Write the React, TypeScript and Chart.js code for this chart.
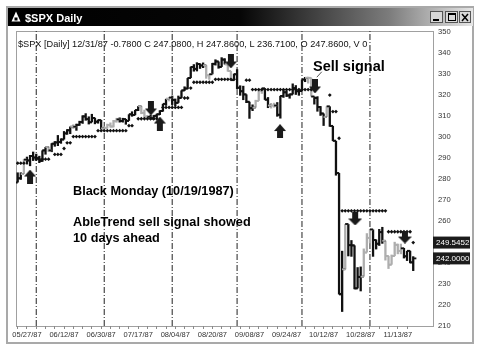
import { useEffect, useRef } from 'react';
import { Chart, registerables } from 'chart.js';

Chart.register(...registerables);

// ---------- data ----------
const DATES: string[] = [
  '05/21/87', '05/22/87', '05/26/87', '05/27/87', '05/28/87', '05/29/87',
  '06/01/87', '06/02/87', '06/03/87', '06/04/87', '06/05/87', '06/08/87', '06/09/87', '06/10/87', '06/11/87', '06/12/87',
  '06/15/87', '06/16/87', '06/17/87', '06/18/87', '06/19/87', '06/22/87', '06/23/87', '06/24/87', '06/25/87', '06/26/87',
  '06/29/87', '06/30/87',
  '07/01/87', '07/02/87', '07/06/87', '07/07/87', '07/08/87', '07/09/87', '07/10/87', '07/13/87', '07/14/87', '07/15/87',
  '07/16/87', '07/17/87', '07/20/87', '07/21/87', '07/22/87', '07/23/87', '07/24/87', '07/27/87', '07/28/87', '07/29/87',
  '07/30/87', '07/31/87',
  '08/03/87', '08/04/87', '08/05/87', '08/06/87', '08/07/87', '08/10/87', '08/11/87', '08/12/87', '08/13/87', '08/14/87',
  '08/17/87', '08/18/87', '08/19/87', '08/20/87', '08/21/87', '08/24/87', '08/25/87', '08/26/87', '08/27/87', '08/28/87',
  '08/31/87',
  '09/01/87', '09/02/87', '09/03/87', '09/04/87', '09/08/87', '09/09/87', '09/10/87', '09/11/87', '09/14/87', '09/15/87',
  '09/16/87', '09/17/87', '09/18/87', '09/21/87', '09/22/87', '09/23/87', '09/24/87', '09/25/87', '09/28/87', '09/29/87',
  '09/30/87',
  '10/01/87', '10/02/87', '10/05/87', '10/06/87', '10/07/87', '10/08/87', '10/09/87', '10/12/87', '10/13/87', '10/14/87',
  '10/15/87', '10/16/87', '10/19/87', '10/20/87', '10/21/87', '10/22/87', '10/23/87', '10/26/87', '10/27/87', '10/28/87',
  '10/29/87', '10/30/87',
  '11/02/87', '11/03/87', '11/04/87', '11/05/87', '11/06/87', '11/09/87', '11/10/87', '11/11/87', '11/12/87', '11/13/87',
  '11/16/87', '11/17/87', '11/18/87', '11/19/87', '11/20/87',
];

const OPEN: number[] = [
  278.2, 280.2, 282.2, 289.1, 288.7, 290.8, 290.1, 289.8, 288.5, 293.5,
  295.1, 293.5, 296.7, 297.3, 297.5, 298.7, 301.6, 303.1, 304.8, 304.8,
  305.7, 307.0, 309.7, 308.4, 306.9, 309.0, 307.2, 307.9, 304.0, 304.2,
  305.6, 304.9, 307.4, 308.3, 307.5, 308.4, 307.6, 310.7, 310.4, 312.7,
  314.6, 311.4, 309.6, 309.5, 308.8, 310.0, 310.7, 312.3, 315.7, 318.1,
  318.7, 317.6, 316.2, 318.5, 322.1, 323.0, 328.0, 333.3, 332.4, 334.7,
  334.0, 334.1, 329.3, 329.8, 334.8, 335.9, 333.3, 336.8, 334.6, 331.4,
  327.0, 329.8, 323.4, 321.7, 320.2, 316.7, 313.6, 313.9, 317.1, 322.0,
  323.1, 317.7, 314.9, 314.9, 314.9, 310.5, 319.5, 321.2, 319.7, 320.2,
  323.2, 321.7, 321.8, 327.3, 328.1, 328.1, 319.2, 318.5, 314.2, 311.1,
  309.4, 314.5, 305.2, 298.1, 282.7, 225.1, 236.8, 258.4, 248.3, 248.2,
  227.7, 233.2, 233.3, 244.8, 251.8, 255.8, 250.8, 249.0, 254.5, 250.4,
  243.2, 239.0, 243.1, 248.5, 245.6, 246.8, 243.0, 245.6, 240.1,
];

const HIGH: number[] = [
  283.0, 283.0, 289.3, 290.5, 291.3, 292.9, 291.9, 290.9, 293.5, 295.1,
  295.3, 296.9, 297.9, 300.8, 299.2, 302.7, 303.6, 304.9, 305.9, 306.2,
  307.6, 310.2, 311.2, 309.7, 310.9, 309.1, 308.2, 308.0, 305.0, 306.2,
  306.8, 308.0, 309.0, 309.2, 309.0, 308.5, 310.7, 312.1, 312.8, 314.6,
  314.6, 312.9, 310.4, 310.5, 310.3, 311.0, 312.6, 315.7, 318.1, 319.0,
  319.6, 318.2, 319.6, 322.1, 324.0, 328.0, 333.4, 334.6, 335.5, 335.0,
  335.4, 334.1, 330.0, 335.2, 336.9, 335.9, 337.9, 337.4, 334.6, 331.4,
  330.1, 332.2, 324.5, 324.3, 320.2, 316.7, 315.4, 317.6, 322.5, 323.1,
  323.1, 318.9, 316.1, 316.2, 316.5, 319.5, 322.5, 322.1, 320.6, 325.4,
  324.6, 322.9, 327.3, 328.5, 328.6, 328.1, 319.3, 319.3, 314.6, 311.1,
  314.5, 314.5, 305.2, 298.1, 282.7, 245.6, 258.4, 258.4, 250.7, 248.2,
  237.8, 238.1, 246.7, 254.0, 255.8, 255.8, 251.0, 256.0, 257.0, 250.4,
  243.2, 243.8, 249.9, 249.0, 249.0, 247.0, 245.6, 245.6, 243.0,
];

const LOW: number[] = [
  278.2, 279.5, 282.2, 286.8, 286.0, 288.5, 288.6, 287.5, 288.1, 291.5,
  292.8, 292.7, 295.3, 295.6, 296.7, 298.7, 301.0, 301.3, 303.8, 302.9,
  305.3, 306.2, 307.7, 305.9, 306.9, 306.0, 306.3, 303.6, 303.6, 304.0,
  304.4, 304.5, 306.8, 306.8, 306.8, 305.8, 307.6, 309.6, 310.3, 312.3,
  310.8, 309.0, 308.9, 308.2, 308.0, 309.0, 310.4, 312.0, 314.8, 316.9,
  315.2, 314.6, 316.2, 318.5, 321.9, 322.7, 328.0, 331.1, 331.2, 332.4,
  332.8, 327.7, 327.2, 329.8, 334.0, 332.5, 333.3, 334.5, 331.1, 326.9,
  327.0, 322.8, 319.6, 317.5, 316.1, 308.6, 312.3, 313.9, 317.1, 320.5,
  317.6, 313.7, 313.5, 313.9, 309.6, 308.7, 318.6, 319.0, 318.2, 320.2,
  320.0, 319.6, 321.8, 326.1, 325.4, 319.2, 315.4, 312.0, 310.0, 305.2,
  309.4, 304.8, 298.0, 281.5, 224.8, 216.5, 236.8, 243.0, 242.8, 227.3,
  227.7, 226.3, 233.3, 244.8, 249.2, 242.8, 246.3, 248.0, 249.0, 241.0,
  237.0, 239.0, 243.1, 244.0, 244.0, 242.0, 240.8, 239.7, 236.0,
];

const CLOSE: number[] = [
  280.2, 282.2, 289.1, 288.7, 290.8, 290.1, 289.8, 288.5, 293.5, 295.1,
  293.5, 296.7, 297.3, 297.5, 298.7, 301.6, 303.1, 304.8, 304.8, 305.7,
  307.0, 309.7, 308.4, 306.9, 309.0, 307.2, 307.9, 304.0, 304.2, 305.6,
  304.9, 307.4, 308.3, 307.5, 308.4, 307.6, 310.7, 310.4, 312.7, 314.6,
  311.4, 309.6, 309.5, 308.8, 310.0, 310.7, 312.3, 315.7, 318.1, 318.7,
  317.6, 316.2, 318.5, 322.1, 323.0, 328.0, 333.3, 332.4, 334.7, 334.0,
  334.1, 329.3, 329.8, 334.8, 335.9, 333.3, 336.8, 334.6, 331.4, 327.0,
  329.8, 323.4, 321.7, 320.2, 316.7, 313.6, 313.9, 317.1, 322.0, 323.1,
  317.7, 314.9, 314.9, 314.9, 310.5, 319.5, 321.2, 319.7, 320.2, 323.2,
  321.7, 321.8, 327.3, 328.1, 328.1, 319.2, 318.5, 314.2, 311.1, 309.4,
  314.5, 305.2, 298.1, 282.7, 224.8, 236.8, 258.4, 248.3, 248.2, 227.7,
  233.2, 233.3, 244.8, 251.8, 255.8, 250.8, 249.0, 254.5, 250.4, 243.2,
  239.0, 243.1, 248.5, 245.6, 246.8, 243.0, 245.6, 240.1, 242.0,
];

// k = dark bar, g = light grey bar
const SHADES: string[] = (
  'kkgkkkkkkk' + 'gkkkkkkkgk' + 'kkkkkkkkgg' + 'gggkkkkkkk' + 'gggkkkkkkg' +
  'kkkkkkkkkk' + 'kggkkkkkgg' + 'kkkkkkkggg' + 'kkggkkkkkk' + 'kkkkggkkkk' +
  'gkkkkkgkkk' + 'kkgggkkkkg' + 'gggggkkkk'
).split('');

// trailing stop levels: [first bar, last bar, level]
const STOP_SEGMENTS: [number, number, number][] = [
  [0, 2, 287.4], [6, 10, 289.3], [12, 14, 291.6], [15, 15, 294.4], [16, 17, 297.1],
  [18, 25, 300.1], [26, 35, 302.9], [36, 37, 305.3], [39, 45, 308.6], [47, 53, 314.0],
  [54, 55, 318.5], [56, 56, 323.2], [57, 63, 326.0], [64, 70, 327.4], [74, 75, 327.0],
  [76, 95, 322.5], [101, 101, 319.9], [102, 103, 312.0], [104, 104, 299.3],
  [105, 119, 264.7], [120, 127, 254.7], [128, 128, 249.5452],
];

const UP_ARROWS: [number, number][] = [[4, 281.05], [46, 306.3], [84.9, 302.75]];
const DOWN_ARROWS: [number, number][] = [[43.1, 313.5], [69, 335.9], [96.2, 324.0], [109.2, 260.8], [125.3, 252.2]];
const SELL_POINTER: [number, number][] = [[98.4, 331.0], [96.8, 328.4]];

const MONTH_STARTS: number[] = [6, 28, 50, 71, 92, 114];
const LABEL_IDX: number[] = [3, 15, 27, 39, 51, 63, 75, 87, 99, 111, 123];
const Y_TICKS: number[] = [210, 220, 230, 240, 250, 260, 270, 280, 290, 300, 310, 320, 330, 340, 350];
const PRICE_TAGS: [number, string][] = [[249.5452, '249.5452'], [242.0, '242.0000']];

const HEADER = '$SPX [Daily] 12/31/87 -0.7800 C 247.0800, H 247.8600, L 236.7100, O 247.8600, V 0';

const X_MIN = -0.55;
const X_MAX = 134.4;
const Y_MIN = 209.76;
const Y_MAX = 350.44;

const FONT = '"Liberation Sans", Arial, Helvetica, sans-serif';

function makeArrow(up: boolean, w: number, h: number, color: string): HTMLCanvasElement {
  const c = document.createElement('canvas');
  c.width = w;
  c.height = h;
  const g = c.getContext('2d')!;
  g.fillStyle = color;
  const shaftW = Math.round(w * 0.46);
  const headH = Math.round(h * 0.5);
  const sx = (w - shaftW) / 2;
  if (up) {
    g.beginPath();
    g.moveTo(w / 2, 0);
    g.lineTo(w, headH);
    g.lineTo(0, headH);
    g.closePath();
    g.fill();
    g.fillRect(sx, headH - 0.5, shaftW, h - headH + 0.5);
  } else {
    g.fillRect(sx, 0, shaftW, h - headH + 0.5);
    g.beginPath();
    g.moveTo(0, h - headH);
    g.lineTo(w, h - headH);
    g.lineTo(w / 2, h);
    g.closePath();
    g.fill();
  }
  return c;
}

const chromePlugin = {
  id: 'chrome',
  beforeDraw(chart: any) {
    const { ctx, chartArea: a } = chart;
    ctx.save();
    ctx.fillStyle = '#ffffff';
    ctx.fillRect(0, 0, chart.width, chart.height);
    // window frame
    ctx.strokeStyle = '#a9a9a9';
    ctx.lineWidth = 2;
    ctx.strokeRect(7, 7, 466, 336);
    // title bar
    const grad = ctx.createLinearGradient(8, 0, 473, 0);
    grad.addColorStop(0, '#000000');
    grad.addColorStop(0.5, '#060606');
    grad.addColorStop(0.82, '#7c7c7c');
    grad.addColorStop(1, '#e6e6e6');
    ctx.fillStyle = grad;
    ctx.fillRect(8, 8, 465, 18);
    // icon
    ctx.fillStyle = '#ffffff';
    ctx.beginPath();
    ctx.moveTo(16, 11.5);
    ctx.lineTo(20.5, 21.5);
    ctx.lineTo(11.5, 21.5);
    ctx.closePath();
    ctx.fill();
    ctx.fillStyle = '#000000';
    ctx.fillRect(14.5, 17.5, 3, 3);
    // title
    ctx.fillStyle = '#ffffff';
    ctx.font = `bold 11px ${FONT}`;
    ctx.textBaseline = 'alphabetic';
    ctx.textAlign = 'left';
    ctx.fillText('$SPX Daily', 25, 21.5);
    // buttons
    const btns = [[430, 13], [445, 13], [459, 12]];
    btns.forEach(([bx, bw]) => {
      ctx.fillStyle = '#d8d8d8';
      ctx.fillRect(bx, 11, bw, 12);
      ctx.strokeStyle = '#555555';
      ctx.lineWidth = 1;
      ctx.strokeRect(bx + 0.5, 11.5, bw - 1, 11);
    });
    ctx.fillStyle = '#000';
    ctx.fillRect(433, 19, 6, 2);
    ctx.strokeStyle = '#000';
    ctx.lineWidth = 1;
    ctx.strokeRect(448.5, 13.5, 7, 7);
    ctx.fillRect(448, 13, 8, 2);
    ctx.lineWidth = 1.5;
    ctx.beginPath();
    ctx.moveTo(462, 14);
    ctx.lineTo(468, 21);
    ctx.moveTo(468, 14);
    ctx.lineTo(462, 21);
    ctx.stroke();
    // plot border
    ctx.strokeStyle = '#a0a0a0';
    ctx.lineWidth = 1;
    ctx.strokeRect(a.left + 0.5, a.top + 0.5, a.right - a.left, a.bottom - a.top);
    ctx.restore();
  },
};

const textPlugin = {
  id: 'texts',
  afterDraw(chart: any) {
    const { ctx } = chart;
    const yScale = chart.scales.y;
    ctx.save();
    ctx.textAlign = 'left';
    ctx.textBaseline = 'alphabetic';
    ctx.fillStyle = '#111111';
    ctx.font = `9.2px ${FONT}`;
    ctx.fillText(HEADER, 18, 46.5);

    ctx.fillStyle = '#000000';
    ctx.font = `bold 14.5px ${FONT}`;
    ctx.fillText('Sell signal', 313, 70.5);
    ctx.font = `bold 12.7px ${FONT}`;
    ctx.fillText('Black Monday (10/19/1987)', 73, 195);
    ctx.fillText('AbleTrend sell signal showed', 73, 226);
    ctx.fillText('10 days ahead', 73, 242);

    // price tags on the right axis
    PRICE_TAGS.forEach(([v, label]) => {
      const py = yScale.getPixelForValue(v);
      ctx.fillStyle = '#1c1c1c';
      ctx.fillRect(433, py - 6, 37, 12);
      ctx.fillStyle = '#ffffff';
      ctx.font = `8px ${FONT}`;
      ctx.textBaseline = 'middle';
      ctx.fillText(label, 436, py + 0.5);
    });
    ctx.restore();
  },
};

export default function App() {
  const ref = useRef<HTMLCanvasElement>(null);

  useEffect(() => {
    const canvas = ref.current;
    if (!canvas) return;
    const BLACK = '#111111';
    const GRAY = '#aeaeae';
    const barColors = SHADES.map((s) => (s === 'g' ? GRAY : BLACK));
    const idx = DATES.map((_, i) => i);
    const stopPts: { x: number; y: number }[] = [];
    STOP_SEGMENTS.forEach(([a, b, v]) => {
      for (let i = a; i <= b; i++) stopPts.push({ x: i, y: v });
    });
    const arrowUp = makeArrow(true, 12, 14, '#1a1a1a');
    const arrowDown = makeArrow(false, 12, 14, '#1a1a1a');
    const arrowDownBig = makeArrow(false, 14, 13, '#1a1a1a');

    const minorTicks: number[] = [];
    for (let i = 0; i < DATES.length; i += 3) minorTicks.push(i);

    const separators = MONTH_STARTS.map((m) => ({
      type: 'line',
      data: [{ x: m, y: Y_MIN }, { x: m, y: Y_MAX }],
      borderColor: '#222222',
      borderWidth: 1,
      borderDash: [6, 2, 1, 2],
      pointRadius: 0,
      order: 10,
    }));

    const chart = new Chart(canvas, {
      type: 'scatter',
      data: {
        datasets: [
          ...separators,
          {
            type: 'bar',
            data: idx.map((i) => ({ x: i, y: [LOW[i], HIGH[i]] })),
            backgroundColor: barColors,
            barThickness: 2.3,
            inflateAmount: 0,
            borderWidth: 0,
            borderSkipped: false,
            order: 5,
          },
          {
            type: 'scatter',
            data: idx.map((i) => ({ x: i - 0.5, y: OPEN[i] })),
            pointStyle: 'line',
            pointRadius: 1.6,
            pointBorderWidth: 1.8,
            pointBorderColor: barColors,
            order: 4,
          },
          {
            type: 'scatter',
            data: idx.map((i) => ({ x: i + 0.5, y: CLOSE[i] })),
            pointStyle: 'line',
            pointRadius: 1.6,
            pointBorderWidth: 1.8,
            pointBorderColor: barColors,
            order: 4,
          },
          {
            type: 'scatter',
            data: stopPts,
            pointStyle: 'rectRot',
            pointRadius: 1.9,
            pointBackgroundColor: '#111111',
            pointBorderWidth: 0,
            order: 3,
          },
          {
            type: 'scatter',
            data: UP_ARROWS.map(([x, y]) => ({ x, y })),
            pointStyle: arrowUp,
            pointRadius: 6,
            order: 2,
          },
          {
            type: 'scatter',
            data: DOWN_ARROWS.map(([x, y]) => ({ x, y })),
            pointStyle: (c: any) => (c.raw && c.raw.x > 100 ? arrowDownBig : arrowDown),
            pointRadius: 6,
            order: 2,
          },
          {
            type: 'line',
            data: SELL_POINTER.map(([x, y]) => ({ x, y })),
            borderColor: '#555555',
            borderWidth: 1,
            pointRadius: 0,
            order: 1,
          },
        ] as any,
      },
      options: {
        animation: false,
        responsive: false,
        maintainAspectRatio: false,
        events: [],
        layout: { padding: { left: 16, top: 31, right: 0, bottom: 0 } },
        plugins: { legend: { display: false }, tooltip: { enabled: false }, title: { display: false } },
        scales: {
          x: {
            type: 'linear',
            min: X_MIN,
            max: X_MAX,
            offset: false,
            afterBuildTicks: (s: any) => {
              s.ticks = minorTicks.map((v) => ({ value: v }));
            },
            afterFit: (s: any) => {
              s.height = 25;
            },
            grid: { display: true, drawOnChartArea: false, drawTicks: true, tickLength: 3, color: '#8a8a8a', offset: false },
            border: { display: false },
            ticks: {
              autoSkip: false,
              maxRotation: 0,
              minRotation: 0,
              padding: 1.5,
              color: '#333333',
              font: { family: FONT, size: 7.5 },
              callback: (v: any) => (LABEL_IDX.includes(Number(v)) ? DATES[Number(v)] : ''),
            },
          },
          y: {
            type: 'linear',
            position: 'right',
            min: Y_MIN,
            max: Y_MAX,
            afterBuildTicks: (s: any) => {
              s.ticks = Y_TICKS.map((v) => ({ value: v }));
            },
            afterFit: (s: any) => {
              s.width = 48;
            },
            grid: { display: false, drawTicks: false },
            border: { display: false },
            ticks: {
              padding: 5,
              color: '#333333',
              font: { family: FONT, size: 7.6 },
              callback: (v: any) => String(v),
            },
          },
        },
      } as any,
      plugins: [chromePlugin, textPlugin],
    });
    return () => chart.destroy();
  }, []);

  return (
    <div style={{ position: 'absolute', left: 0, top: 0, width: 481, height: 351 }}>
      <canvas ref={ref} width={481} height={351} style={{ display: 'block', width: 481, height: 351 }} />
    </div>
  );
}
